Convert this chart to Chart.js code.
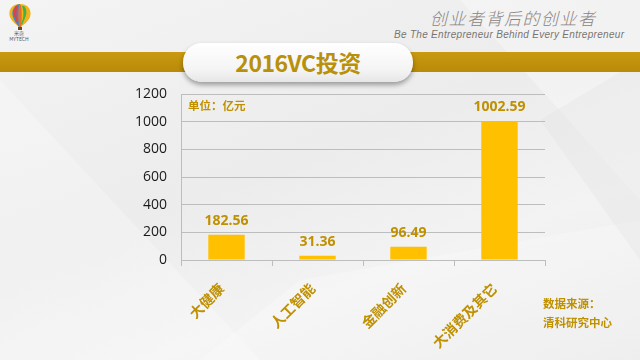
<!DOCTYPE html>
<html>
<head>
<meta charset="utf-8">
<script src="https://cdn.jsdelivr.net/npm/chart.js@4.4.1/dist/chart.umd.min.js"></script>
<style>
  html, body { margin: 0; padding: 0; }
  body { width: 640px; height: 360px; position: relative; overflow: hidden;
    background: linear-gradient(160deg, #f4f4f5 0%, #ececed 45%, #f3f3f4 70%, #e9e9ea 100%);
    font-family: "Noto Sans CJK SC", "Noto Sans", sans-serif; }
  .facet { position: absolute; inset: 0; }
  #band { position: absolute; left: 0; top: 52px; width: 640px; height: 20px;
    background: linear-gradient(180deg, #c99a10 0%, #b88a08 100%); }
  #titlebox { position: absolute; left: 183px; top: 43px; width: 230px; height: 39px;
    border-radius: 19px; background: linear-gradient(180deg, #ffffff 0%, #f4f4f4 70%, #e6e6e6 100%);
    box-shadow: 0 3px 5px rgba(0,0,0,0.35);
    text-align: center; line-height: 39px; font-weight: bold; font-size: 23px; color: #b8900a;
    font-family: "Noto Sans CJK SC", sans-serif; letter-spacing: -0.5px; }
  #slogan { position: absolute; left: 430px; top: 5px; font-size: 17px; color: #8a8480; white-space: nowrap;
    font-family: "Noto Sans CJK SC", sans-serif; font-weight: 300; letter-spacing: 1.5px; font-style: italic; }
  #eng { position: absolute; left: 394px; top: 29px; font-size: 10px; color: #7a7470; white-space: nowrap;
    font-family: "Liberation Sans", sans-serif; font-style: italic; letter-spacing: 0.3px; }
  #logo { position: absolute; left: 6px; top: 3px; }
  #logotext { position: absolute; left: 9px; top: 30px; font-size: 5px; color: #555; text-align: center; width: 20px; line-height: 6px; }
  #chart { position: absolute; left: 0; top: 0; }
  .note { position: absolute; color: #bf9000; font-weight: bold; font-size: 11.5px; white-space: nowrap;
    font-family: "Noto Sans CJK SC", sans-serif; }
</style>
</head>
<body>
<svg class="facet" width="640" height="360">
  <polygon points="0,80 260,360 0,360" fill="#ffffff" opacity="0.25"/>
  <polygon points="460,0 640,200 640,0" fill="#ffffff" opacity="0.3"/>
  <polygon points="300,280 640,220 640,360 200,360" fill="#ffffff" opacity="0.25"/>
  <polygon points="540,120 640,60 640,260" fill="#e2e2e3" opacity="0.35"/>
</svg>
<svg id="logo" width="28" height="28" viewBox="0 0 28 28">
  <path d="M14 1 C5 1 2 8 4 14 C6 19 11 22 13 24 L15 24 C17 22 22 19 24 14 C26 8 23 1 14 1 Z" fill="#f2b21b"/>
  <path d="M14 1 C8 2 5 8 7 14 C8 18 11 21 13 24 L14 24 Z" fill="#2b8fd6"/>
  <path d="M10 3 C7 6 7 11 9 15 L11 20 L12 19 C10 14 10 8 12 3 Z" fill="#e0404a"/>
  <path d="M18 3 C21 6 21 11 19 15 L16 22 L15 21 C18 15 18 8 16 3 Z" fill="#41b24a"/>
  <path d="M13 2 C12 8 12 16 13 24 L15 24 C16 16 16 8 15 2 Z" fill="#e9702a"/>
  <rect x="12" y="24" width="4" height="3" fill="#6b4a2a"/>
</svg>
<div id="logotext">米奇<br>MYTECH</div>
<div id="band"></div>
<div id="titlebox">2016VC投资</div>
<div id="slogan">创业者背后的创业者</div>
<div id="eng">Be The Entrepreneur Behind Every Entrepreneur</div>
<canvas id="chart" width="640" height="360"></canvas>
<div class="note" style="left:188px; top:97px;">单位：亿元</div>
<div class="note" style="left:543px; top:295px;">数据来源：</div>
<div class="note" style="left:543px; top:314px;">清科研究中心</div>
<script>
const categories = ["大健康", "人工智能", "金融创新", "大消费及其它"];
const investment = [182.56, 31.36, 96.49, 1002.59];
const yTicks = [0, 200, 400, 600, 800, 1000, 1200];

const GOLD_TEXT = "#bf9000";
const BAR = "#ffc000";
const GRID = "#bdbdbd";

const valueLabels = {
  id: "valueLabels",
  afterDatasetsDraw(chart) {
    const ctx = chart.ctx;
    const meta = chart.getDatasetMeta(0);
    ctx.save();
    ctx.font = "bold 14px 'Open Sans', 'Noto Sans', sans-serif";
    ctx.fillStyle = GOLD_TEXT;
    ctx.textAlign = "center";
    ctx.textBaseline = "middle";
    meta.data.forEach((bar, i) => {
      ctx.fillText(investment[i].toFixed(2), bar.x, bar.y - 14);
    });
    ctx.restore();
  }
};

new Chart(document.getElementById("chart"), {
  type: "bar",
  data: {
    labels: categories,
    datasets: [{
      data: investment,
      backgroundColor: BAR,
      borderWidth: 0,
      barPercentage: 0.4,
      categoryPercentage: 1.0
    }]
  },
  options: {
    responsive: false,
    devicePixelRatio: 1,
    animation: false,
    layout: { padding: { left: 120, top: 94, right: 95, bottom: 0 } },
    plugins: { legend: { display: false }, tooltip: { enabled: false } },
    scales: {
      x: {
        offset: true,
        grid: { offset: true, drawOnChartArea: false, drawTicks: true, tickLength: 6, color: GRID, lineWidth: 1 },
        border: { display: true, color: GRID },
        ticks: {
          minRotation: 45, maxRotation: 45, autoSkip: false, padding: 14, labelOffset: -5,
          color: GOLD_TEXT,
          font: { size: 14, weight: "bold", family: "'Noto Sans CJK SC', sans-serif" }
        },
        afterFit(s) { s.height = 100; }
      },
      y: {
        min: 0, max: 1200,
        afterBuildTicks(s) { s.ticks = yTicks.map(v => ({ value: v })); },
        grid: { drawTicks: false, color: GRID, lineWidth: 1 },
        border: { display: true, color: GRID },
        ticks: {
          padding: 14, color: "#1a1a1a",
          font: { size: 14, family: "'Open Sans', 'Noto Sans', sans-serif" },
          callback: (v) => String(v)
        },
        afterFit(s) { s.width = 61; }
      }
    }
  },
  plugins: [valueLabels]
});
</script>
</body>
</html>
